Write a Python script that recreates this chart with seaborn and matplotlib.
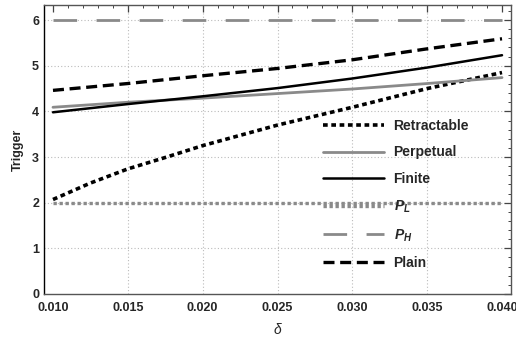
import numpy as np
import pandas as pd
import seaborn as sns
import matplotlib
matplotlib.use("Agg")
import matplotlib.pyplot as plt
from matplotlib.ticker import MultipleLocator, FormatStrFormatter

sns.set_theme(style="white")
plt.rcParams['font.family'] = ['Liberation Sans', 'DejaVu Sans']
plt.rcParams['mathtext.fontset'] = 'custom'
plt.rcParams['mathtext.it'] = 'Liberation Sans:bold:italic'
plt.rcParams['mathtext.rm'] = 'Liberation Sans:bold'

delta = [0.010, 0.015, 0.020, 0.025, 0.030, 0.035, 0.040]
delta_retr = [0.010, 0.0125, 0.015, 0.0175, 0.020, 0.025, 0.030, 0.035, 0.040]
retractable = [2.07, 2.43, 2.74, 2.99, 3.25, 3.70, 4.09, 4.50, 4.85]
perpetual = [4.09, 4.20, 4.29, 4.39, 4.49, 4.61, 4.74]
finite = [3.98, 4.16, 4.33, 4.51, 4.72, 4.96, 5.23]
plain = [4.46, 4.61, 4.78, 4.94, 5.13, 5.37, 5.59]
p_low = [2.0] * len(delta)
p_high = [6.0] * len(delta)

series = [
    ("Retractable", delta_retr, retractable, dict(color="black", lw=2.6, dashes=(1.3, 1.0))),
    ("Perpetual", delta, perpetual, dict(color="#8a8a8a", lw=2.0)),
    ("Finite", delta, finite, dict(color="black", lw=1.8)),
    ("$P_L$", delta, p_low, dict(color="#8a8a8a", lw=2.4, dashes=(1.0, 0.8))),
    ("$P_H$", delta, p_high, dict(color="#8a8a8a", lw=2.0, dashes=(8.5, 7.0))),
    ("Plain", delta, plain, dict(color="black", lw=2.4, dashes=(3.3, 1.7))),
]

fig = plt.figure(figsize=(5.16, 3.43), dpi=100)
ax = fig.add_axes([44/516, 1-294/343, (511-44)/516, (294-5)/343])

for name, xs, vals, st in series:
    df = pd.DataFrame({"delta": xs, "v": vals})
    sns.lineplot(data=df, x="delta", y="v", ax=ax, label=name, **st)

ax.set_xlim(0.0094, 0.0406)
ax.set_ylim(0, 6.33)
ax.xaxis.set_major_locator(MultipleLocator(0.005))
ax.xaxis.set_minor_locator(MultipleLocator(0.001))
ax.yaxis.set_major_locator(MultipleLocator(1))
ax.yaxis.set_minor_locator(MultipleLocator(0.2))
ax.xaxis.set_major_formatter(FormatStrFormatter('%.3f'))

ax.tick_params(which='both', direction='in', top=True, right=True,
               labelsize=9, color='#444')
ax.tick_params(which='major', length=5, width=0.9)
ax.tick_params(which='minor', length=2.5, width=0.7)
ax.tick_params(axis='x', which='major', pad=6)
for lab in ax.get_xticklabels() + ax.get_yticklabels():
    lab.set_fontweight('bold')

ax.grid(True, which='major', color='#bbbbbb', linestyle=(0, (1, 2)), lw=0.8)
fig.canvas.draw()
for t, loc in zip(ax.xaxis.get_major_ticks(), ax.xaxis.get_majorticklocs()):
    if loc < 0.0125 or loc > 0.0375:
        t.gridline.set_visible(False)
for t, loc in zip(ax.yaxis.get_major_ticks(), ax.yaxis.get_majorticklocs()):
    if loc < 0.5:
        t.gridline.set_visible(False)

for s in ax.spines.values():
    s.set_color('#555555')
    s.set_linewidth(1.0)
ax.spines['left'].set_color('black')

ax.set_xlabel("δ", fontsize=10, fontstyle='italic', labelpad=6)
ax.set_ylabel("Trigger", fontsize=9, fontweight='bold', labelpad=6)

leg = ax.legend(loc='upper left', bbox_to_anchor=(0.585, 0.625), frameon=False,
                handlelength=4.4, handletextpad=0.7, labelspacing=0.9,
                prop={'weight': 'bold', 'size': 10}, borderaxespad=0)

fig.savefig("out.png", dpi=100)
